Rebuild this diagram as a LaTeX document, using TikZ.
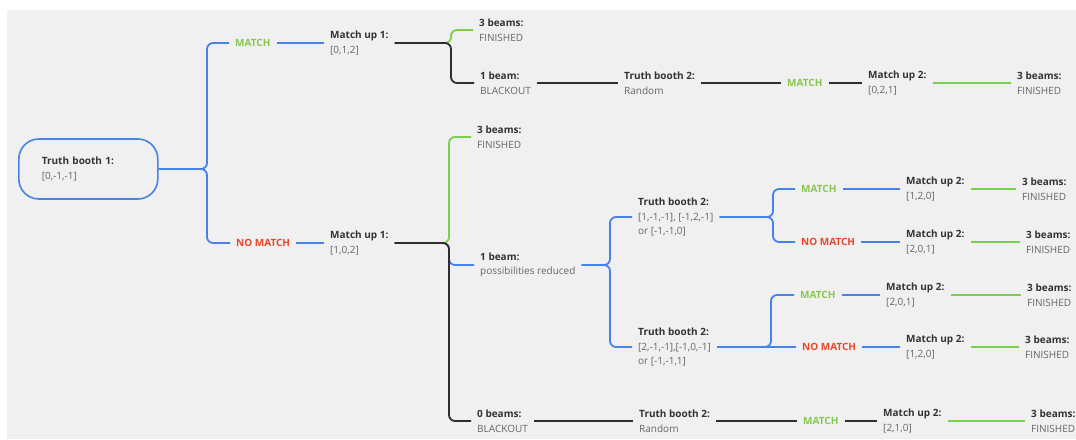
\documentclass[tikz,border=0pt]{standalone}
\usepackage{fontspec}
\setmainfont{Open Sans}
\usepackage{xcolor}
\definecolor{bggray}{HTML}{F0F0F0}
\definecolor{lblue}{HTML}{4682E8}
\definecolor{lgreen}{HTML}{78D04C}
\definecolor{ldark}{HTML}{2E2E2E}
\definecolor{tgreen}{HTML}{86C850}
\definecolor{tred}{HTML}{E8472B}
\definecolor{ttitle}{HTML}{333333}
\definecolor{tsub}{HTML}{666666}
\tikzset{
  box/.style={anchor=west,align=left,inner xsep=6pt,inner ysep=2pt,text=tsub,font=\fontsize{10}{14.5}\selectfont},
  yes/.style={box,text=tgreen,font=\fontsize{10}{12}\selectfont\bfseries},
  no/.style={box,text=tred,font=\fontsize{10}{12}\selectfont\bfseries},
  rootbox/.style={box,draw=lblue,line width=1.6pt,rounded corners=20pt,minimum height=60pt,text width=93pt,inner xsep=23pt},
  bluel/.style={draw=lblue,line width=1.8pt,rounded corners=6pt},
  greenl/.style={draw=lgreen,line width=1.8pt,rounded corners=6pt},
  darkl/.style={draw=ldark,line width=1.8pt,rounded corners=6pt}
}
\newcommand{\entry}[2]{\textcolor{ttitle}{\textbf{#1}}\\\relax #2}

\begin{document}
\begin{tikzpicture}[x=1pt,y=-1pt]
\useasboundingbox (0,0) rectangle (1076,439);
\fill[white] (0,0) rectangle (1076,439);
\fill[bggray] (7,10) rectangle (1076,439);

\node[rootbox] (tb1) at (18,169) {\entry{Truth booth 1:}{[0,-1,-1]}};
\node[yes] (m1) at (229,43) {MATCH};
\node[no] (nm1) at (230,243) {NO MATCH};
\node[box] (mu1a) at (324,43) {\entry{Match up 1:}{[0,1,2]}};
\node[box] (mu1b) at (324,243) {\entry{Match up 1:}{[1,0,2]}};

\node[box] (fin1) at (473,30) {\entry{3 beams:}{FINISHED}};
\node[box] (bo1) at (474,83) {\entry{1 beam:}{BLACKOUT}};
\node[box] (tb2a) at (618,83) {\entry{Truth booth 2:}{Random}};
\node[yes] (m2a) at (781,83) {MATCH};
\node[box] (mu2a) at (862,83) {\entry{Match up 2:}{[0,2,1]}};
\node[box] (fin2) at (1011,83) {\entry{3 beams:}{FINISHED}};

\node[box] (fin3) at (471,137) {\entry{3 beams:}{FINISHED}};
\node[box] (red1) at (474,265) {\entry{1 beam:}{possibilities reduced}};
\node[box] (bo2) at (471,421) {\entry{0 beams:}{BLACKOUT}};
\node[box] (tb2d) at (633,421) {\entry{Truth booth 2:}{Random}};
\node[yes] (m2d) at (797,421) {MATCH};
\node[box] (mu2d) at (877,421) {\entry{Match up 2:}{[2,1,0]}};
\node[box] (fin8) at (1025,421) {\entry{3 beams:}{FINISHED}};

\node[box] (tb2b) at (632,217) {\entry{Truth booth 2:}{[1,-1,-1], [-1,2,-1]\\\relax or [-1,-1,0]}};
\node[box] (tb2c) at (632,347) {\entry{Truth booth 2:}{[2,-1,-1],[-1,0,-1]\\\relax or [-1,-1,1]}};
\node[yes] (m2b) at (795,189) {MATCH};
\node[no] (nm2b) at (795,242) {NO MATCH};
\node[box] (mu2b) at (900,189) {\entry{Match up 2:}{[1,2,0]}};
\node[box] (mu2c) at (900,242) {\entry{Match up 2:}{[2,0,1]}};
\node[box] (fin4) at (1016,189) {\entry{3 beams:}{FINISHED}};
\node[box] (fin5) at (1020,242) {\entry{3 beams:}{FINISHED}};
\node[yes] (m2c) at (794,295) {MATCH};
\node[no] (nm2c) at (796,347) {NO MATCH};
\node[box] (mu2e) at (880,295) {\entry{Match up 2:}{[2,0,1]}};
\node[box] (mu2f) at (900,347) {\entry{Match up 2:}{[1,2,0]}};
\node[box] (fin6) at (1021,295) {\entry{3 beams:}{FINISHED}};
\node[box] (fin7) at (1019,347) {\entry{3 beams:}{FINISHED}};

\coordinate (b1) at (207,169);
\coordinate (b2) at (451,43);
\coordinate (b3) at (449,243);
\coordinate (b4) at (610,265);
\coordinate (b5) at (773,217);
\coordinate (b6) at (771,347);

\draw[bluel] (tb1.east) -- (b1) |- (m1.west);
\draw[bluel] (tb1.east) -- (b1) |- (nm1.west);
\draw[bluel] (m1.east) -- (mu1a.west);
\draw[bluel] (nm1.east) -- (mu1b.west);

\draw[greenl] (mu1a.east) -- (b2) |- (fin1.west);
\draw[darkl] (mu1a.east) -- (b2) |- (bo1.west);
\draw[darkl] (bo1.east) -- (tb2a.west);
\draw[darkl] (tb2a.east) -- (m2a.west);
\draw[darkl] (m2a.east) -- (mu2a.west);
\draw[greenl] (mu2a.east) -- (fin2.west);

\draw[greenl] (mu1b.east) -- (b3) |- (fin3.west);
\draw[bluel] (mu1b.east) -- (b3) |- (red1.west);
\draw[darkl] (mu1b.east) -- (b3) |- (bo2.west);
\draw[darkl] (bo2.east) -- (tb2d.west);
\draw[darkl] (tb2d.east) -- (m2d.west);
\draw[darkl] (m2d.east) -- (mu2d.west);
\draw[greenl] (mu2d.east) -- (fin8.west);

\draw[bluel] (red1.east) -- (b4) |- (tb2b.west);
\draw[bluel] (red1.east) -- (b4) |- (tb2c.west);
\draw[bluel] (tb2b.east) -- (b5) |- (m2b.west);
\draw[bluel] (tb2b.east) -- (b5) |- (nm2b.west);
\draw[bluel] (tb2c.east) -- (b6) |- (m2c.west);
\draw[bluel] (tb2c.east) -- (nm2c.west);
\draw[bluel] (m2b.east) -- (mu2b.west);
\draw[bluel] (nm2b.east) -- (mu2c.west);
\draw[bluel] (m2c.east) -- (mu2e.west);
\draw[bluel] (nm2c.east) -- (mu2f.west);
\draw[greenl] (mu2b.east) -- (fin4.west);
\draw[greenl] (mu2c.east) -- (fin5.west);
\draw[greenl] (mu2e.east) -- (fin6.west);
\draw[greenl] (mu2f.east) -- (fin7.west);
\end{tikzpicture}
\end{document}
